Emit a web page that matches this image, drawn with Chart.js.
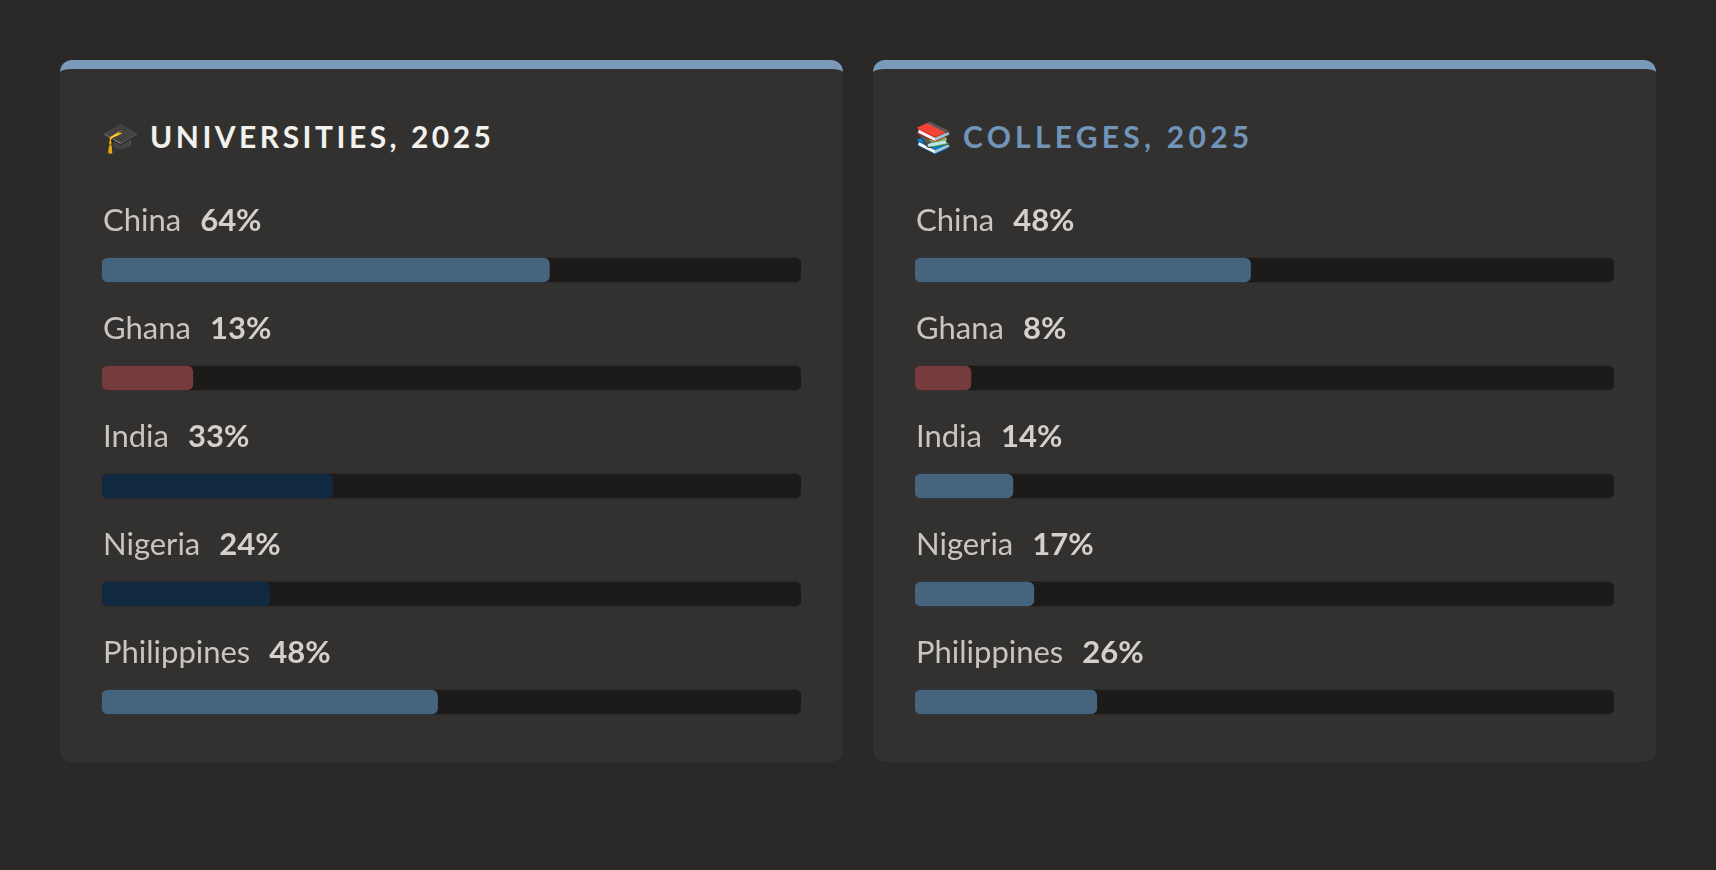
<!DOCTYPE html>
<html>
<head>
<meta charset="utf-8">
<title>Universities and colleges, 2025</title>
<script src="https://cdn.jsdelivr.net/npm/chart.js@4"></script>
<style>
  html, body { margin: 0; height: 100%; background: #2a2927; overflow: hidden; }
  .card {
    position: absolute; top: 60px; width: 783px; height: 702px; box-sizing: border-box;
    background: #32312f; border-top: 9px solid #7a9aba; border-radius: 12px;
  }
  #card-uni { left: 60px; }
  #card-col { left: 873px; }
  h2 {
    position: absolute; left: 42px; top: 47px; margin: 0; height: 40px;
    font: 700 30px/40px Lato, sans-serif; white-space: nowrap;
  }
  h2 .icon { display: inline-block; width: 48px; letter-spacing: 0; font-size: 30px; }
  #card-uni h2 { color: #f3f1ed; letter-spacing: 3.5px; }
  #card-col h2 { color: #7194b9; letter-spacing: 4.25px; }
  canvas { position: absolute; left: 42px; top: 93px; }
</style>
</head>
<body>
<div class="card" id="card-uni">
  <h2><span class="icon">🎓</span>UNIVERSITIES, 2025</h2>
  <canvas id="chart-uni" width="699" height="594"></canvas>
</div>
<div class="card" id="card-col">
  <h2><span class="icon">📚</span>COLLEGES, 2025</h2>
  <canvas id="chart-col" width="699" height="594"></canvas>
</div>
<script>
"use strict";

const countries = ['China', 'Ghana', 'India', 'Nigeria', 'Philippines'];
const universities = [64, 13, 33, 24, 48];
const colleges = [48, 8, 14, 17, 26];
const fullScale = [100, 100, 100, 100, 100];

const BLUE = '#47647f';
const RED = '#753b3d';
const NAVY = '#102840';
const universityColors = [BLUE, RED, NAVY, NAVY, BLUE];
const collegeColors = [BLUE, RED, BLUE, BLUE, BLUE];

// country name and bold percentage sitting above each bar
const rowLabels = {
  id: 'rowLabels',
  afterDatasetsDraw(chart) {
    const { ctx, scales: { y } } = chart;
    const values = chart.data.datasets[0].data;
    ctx.save();
    ctx.textBaseline = 'alphabetic';
    ctx.textAlign = 'left';
    chart.data.labels.forEach((name, i) => {
      const baseline = y.getPixelForValue(i) - 39;
      ctx.font = '400 31px Lato, sans-serif';
      ctx.fillStyle = '#c9c5c1';
      ctx.fillText(name, 1, baseline);
      const nameWidth = ctx.measureText(name).width;
      ctx.font = '700 31px Lato, sans-serif';
      ctx.fillStyle = '#d3d0cd';
      ctx.fillText(values[i] + '%', nameWidth + 20, baseline);
    });
    ctx.restore();
  }
};

function drawCard(canvasId, values, colors) {
  return new Chart(document.getElementById(canvasId), {
    type: 'bar',
    data: {
      labels: countries,
      datasets: [
        {
          data: values,
          backgroundColor: colors,
          order: 1
        },
        {
          data: fullScale,
          backgroundColor: '#1c1b19',
          order: 2
        }
      ]
    },
    options: {
      indexAxis: 'y',
      responsive: false,
      animation: false,
      devicePixelRatio: 1,
      layout: { padding: { top: 54 } },
      datasets: {
        bar: {
          grouped: false,
          barThickness: 24,
          borderRadius: 6,
          borderSkipped: false,
          borderWidth: 0
        }
      },
      scales: {
        x: { display: false, min: 0, max: 100 },
        y: { display: false }
      },
      plugins: {
        legend: { display: false },
        tooltip: { enabled: false }
      }
    },
    plugins: [rowLabels]
  });
}

drawCard('chart-uni', universities, universityColors);
drawCard('chart-col', colleges, collegeColors);
</script>
</body>
</html>
